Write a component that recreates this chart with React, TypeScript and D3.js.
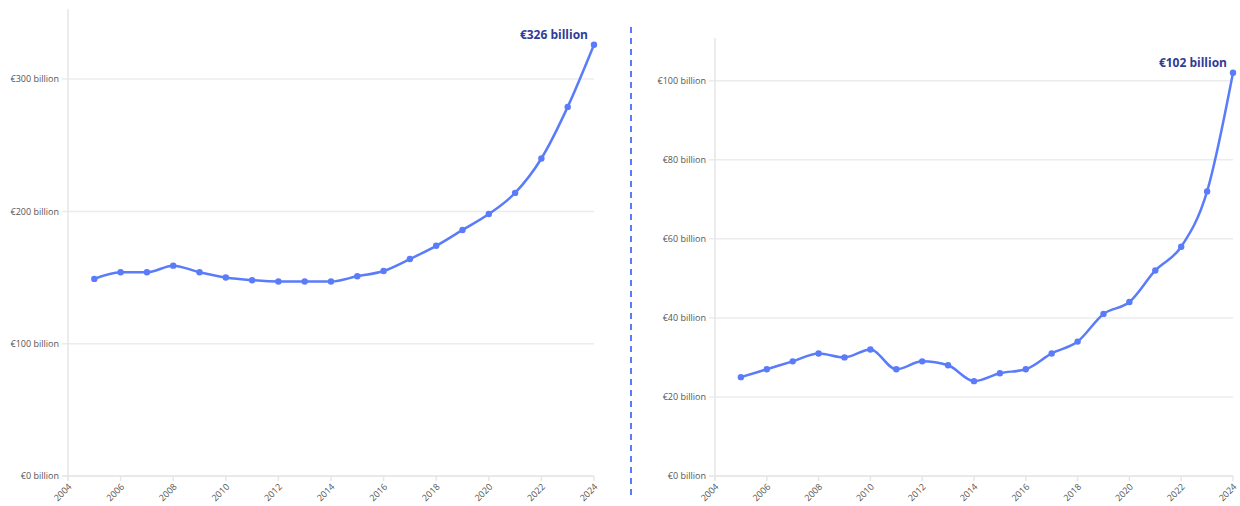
import React from "react";
import * as d3 from "d3";

const years = [2005, 2006, 2007, 2008, 2009, 2010, 2011, 2012, 2013, 2014, 2015, 2016, 2017, 2018, 2019, 2020, 2021, 2022, 2023, 2024];
const leftValues = [149, 154, 154, 159, 154, 150, 148, 147, 147, 147, 151, 155, 164, 174, 186, 198, 214, 240, 279, 326];
const rightValues = [25, 27, 29, 31, 30, 32, 27, 29, 28, 24, 26, 27, 31, 34, 41, 44, 52, 58, 72, 102];
const leftTicks = [0, 100, 200, 300];
const rightTicks = [0, 20, 40, 60, 80, 100];
const xTicks = [2004, 2006, 2008, 2010, 2012, 2014, 2016, 2018, 2020, 2022, 2024];
const leftLabel = "€326 billion";
const rightLabel = "€102 billion";

const LINE = "#5b7cfa";
const GRID = "#ececec";
const AXIS = "#e6e6e6";
const TEXT = "#555555";
const LABEL = "#2f3c96";
const FONT = "'Open Sans', 'Noto Sans', sans-serif";

type PanelProps = {
  values: number[];
  ticks: number[];
  yMax: number;
  x0: number;
  x1: number;
  yTop: number;
  label: string;
};

function Panel({ values, ticks, yMax, x0, x1, yTop, label }: PanelProps) {
  const yBottom = 476;
  const x = d3.scaleLinear().domain([2004, 2024]).range([x0, x1]);
  const y = d3.scaleLinear().domain([0, yMax]).range([yBottom, yTop]);
  const data = years.map((yr, i) => ({ yr, v: values[i] }));
  const line = d3
    .line<{ yr: number; v: number }>()
    .x((d) => x(d.yr))
    .y((d) => y(d.v))
    .curve(d3.curveMonotoneX);
  const last = data[data.length - 1];
  return (
    <g>
      {ticks.map((t) => (
        <g key={t}>
          <line x1={x0 - 6} x2={x1} y1={y(t)} y2={y(t)} stroke={GRID} strokeWidth={1.5} />
          <text
            x={x0 - 9}
            y={y(t)}
            dy="0.35em"
            textAnchor="end"
            fontSize={9}
            fill={TEXT}
            fontFamily={FONT}
          >
            {`€${t} billion`}
          </text>
        </g>
      ))}
      <line x1={x0} x2={x0} y1={yTop} y2={yBottom + 4} stroke={AXIS} strokeWidth={1.5} />
      <line x1={x0 - 6} x2={x1} y1={yBottom} y2={yBottom} stroke={AXIS} strokeWidth={1.5} />
      {xTicks.map((t) => (
        <g key={t}>
          <line x1={x(t)} x2={x(t)} y1={yBottom} y2={yBottom + 5} stroke={AXIS} strokeWidth={1.5} />
          <text
            transform={`translate(${x(t) + 2},${yBottom + 9}) rotate(-45)`}
            textAnchor="end"
            dy="0.35em"
            fontSize={9}
            fill={TEXT}
            fontFamily={FONT}
          >
            {t}
          </text>
        </g>
      ))}
      <path d={line(data) || ""} fill="none" stroke={LINE} strokeWidth={2.5} />
      {data.map((d) => (
        <circle key={d.yr} cx={x(d.yr)} cy={y(d.v)} r={3.2} fill={LINE} />
      ))}
      <text
        x={x(last.yr) - 6}
        y={y(last.v) - 10}
        dy="0.35em"
        textAnchor="end"
        fontSize={12}
        fontWeight={700}
        fill={LABEL}
        fontFamily={FONT}
      >
        {label}
      </text>
    </g>
  );
}

export default function App() {
  return (
    <div style={{ position: "absolute", left: 0, top: 0 }}>
      <svg width={1240} height={506} style={{ display: "block", background: "#fff" }}>
        <Panel values={leftValues} ticks={leftTicks} yMax={353} x0={68} x1={594} yTop={9} label={leftLabel} />
        <Panel values={rightValues} ticks={rightTicks} yMax={110.8} x0={715} x1={1233} yTop={38} label={rightLabel} />
        <line x1={631} x2={631} y1={27} y2={500} stroke={LINE} strokeWidth={2} strokeDasharray="6,5" />
      </svg>
    </div>
  );
}
